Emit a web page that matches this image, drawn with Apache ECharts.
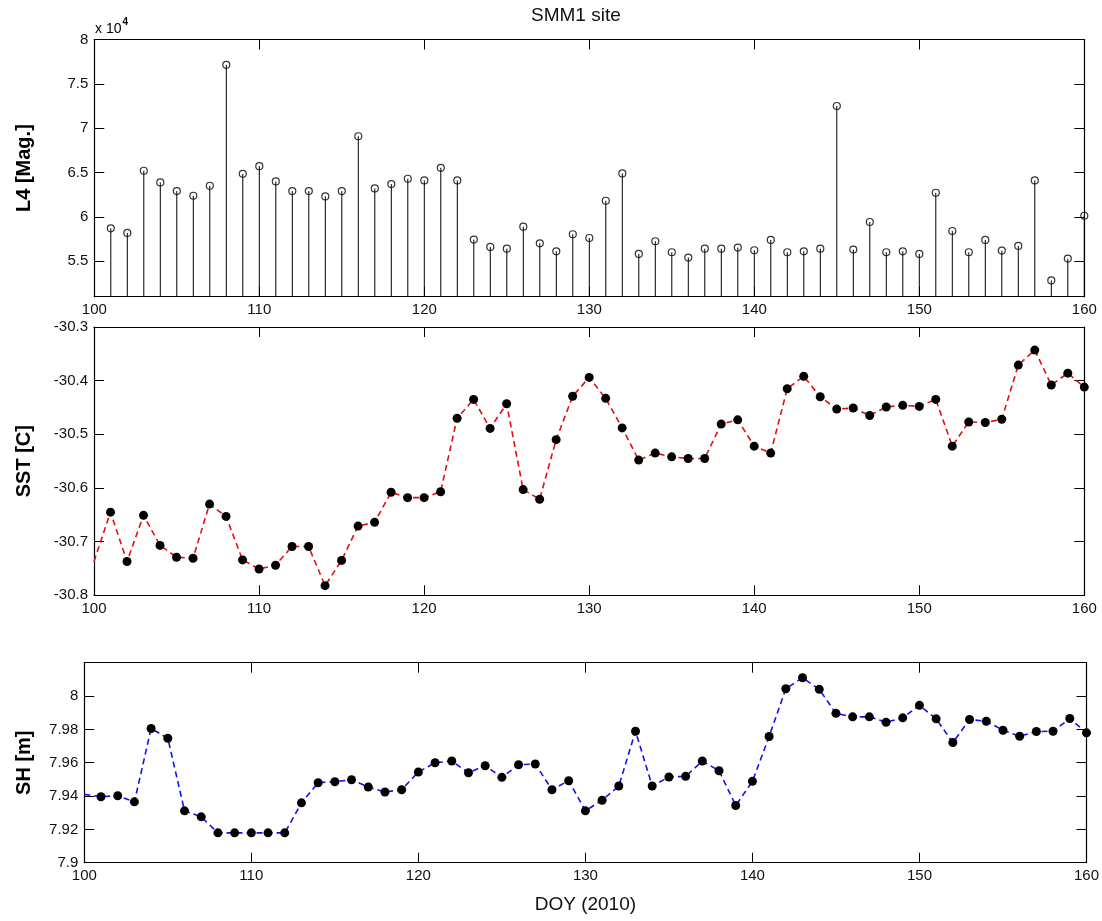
<!DOCTYPE html>
<html>
<head>
<meta charset="utf-8">
<script src="https://cdn.jsdelivr.net/npm/echarts@6/dist/echarts.min.js"></script>
<style>html,body{margin:0;padding:0;background:#fff;}#c{width:1102px;height:921px;}</style>
</head>
<body>
<div id="c"></div>
<script>
// ---- data ----
const l4Days = [101,102,103,104,105,106,107,108,109,110,111,112,113,114,115,116,117,118,119,120,121,122,123,124,125,126,127,128,129,130,131,132,133,134,135,136,137,138,139,140,141,142,143,144,145,146,147,148,149,150,151,152,153,154,155,156,157,158,159,160];
const l4Values = [58710,58190,65200,63880,62910,62380,63510,77150,64860,65720,64000,62910,62910,62310,62910,69090,63210,63700,64300,64110,65530,64110,57440,56610,56420,58900,57020,56120,58040,57620,61820,64900,55820,57250,56010,55410,56420,56420,56540,56240,57400,56010,56120,56420,72500,56310,59420,56010,56120,55820,62720,58410,56010,57400,56200,56720,64110,52830,55300,60130];

const sstDays = [100,101,102,103,104,105,106,107,108,109,110,111,112,113,114,115,116,117,118,119,120,121,122,123,124,125,126,127,128,129,130,131,132,133,134,135,136,137,138,139,140,141,142,143,144,145,146,147,148,149,150,151,152,153,154,155,156,157,158,159,160];
const sstValues = [-30.737,-30.645,-30.737,-30.651,-30.707,-30.729,-30.731,-30.630,-30.653,-30.734,-30.751,-30.744,-30.709,-30.709,-30.782,-30.735,-30.671,-30.664,-30.608,-30.618,-30.618,-30.607,-30.470,-30.435,-30.489,-30.443,-30.603,-30.621,-30.510,-30.429,-30.394,-30.433,-30.488,-30.548,-30.535,-30.542,-30.545,-30.545,-30.481,-30.473,-30.522,-30.535,-30.415,-30.392,-30.430,-30.453,-30.451,-30.465,-30.449,-30.446,-30.448,-30.435,-30.522,-30.477,-30.478,-30.472,-30.371,-30.343,-30.408,-30.386,-30.412];

const shDays = [100,101,102,103,104,105,106,107,108,109,110,111,112,113,114,115,116,117,118,119,120,121,122,123,124,125,126,127,128,129,130,131,132,133,134,135,136,137,138,139,140,141,142,143,144,145,146,147,148,149,150,151,152,153,154,155,156,157,158,159,160];
const shValues = [7.941,7.9396,7.9402,7.9365,7.9805,7.9747,7.9311,7.9275,7.9179,7.9179,7.9179,7.9179,7.9179,7.9359,7.9480,7.9486,7.9498,7.9454,7.9424,7.9438,7.9544,7.9600,7.9610,7.9540,7.9582,7.9512,7.9588,7.9592,7.9438,7.9492,7.9311,7.9375,7.9460,7.9789,7.9460,7.9514,7.9518,7.9610,7.9552,7.9343,7.9488,7.9757,8.0044,8.0110,8.0040,7.9896,7.9875,7.9875,7.9843,7.9869,7.9944,7.9863,7.9721,7.9859,7.9849,7.9795,7.9759,7.9787,7.9789,7.9865,7.9779];

const l4Ticks = [55000,60000,65000,70000,75000,80000];
const titleText = 'SMM1 site';
const xName = 'DOY (2010)';
const yNames = ['L4 [Mag.]', 'SST [C]', 'SH [m]'];

// ---- chart ----
const FONT = 'Liberation Sans, Arial, Helvetica, sans-serif';
const L4_MIN = 51000, L4_MAX = 80000;

const tickStyle = {show:true, inside:true, length:10, lineStyle:{color:'#000', width:1}};
const lineStyleAx = {show:true, lineStyle:{color:'#000', width:1.2}};
const lbl = {show:true, color:'#111', fontSize:15, fontFamily:FONT};

function xBottom(grid, extra) {
  return Object.assign({
    type:'value', gridIndex:grid, position:'bottom', min:100, max:160, interval:10,
    axisLine:lineStyleAx, axisTick:tickStyle, splitLine:{show:false},
    axisLabel:Object.assign({margin:6}, lbl)
  }, extra || {});
}
function xTop(grid) {
  return {type:'value', gridIndex:grid, position:'top', min:100, max:160, interval:10,
    axisLine:lineStyleAx, axisTick:tickStyle, splitLine:{show:false}, axisLabel:{show:false}};
}

const sstData = sstDays.map((d,i) => i === 0 ? {value:[d, sstValues[i]], symbol:'none'} : [d, sstValues[i]]);
const shData = shDays.map((d,i) => i === 0 ? {value:[d, shValues[i]], symbol:'none'} : [d, shValues[i]]);
const l4Data = l4Days.map((d,i) => [d, l4Values[i]]);

const option = {
  backgroundColor:'#fff',
  animation:false,
  graphic:[
    {type:'text', left:531, top:6, style:{text:titleText, font:'19px ' + FONT, fill:'#111'}},
    {type:'text', left:95, top:17, style:{
      text:'{a|x 10}{b|4}', rich:{
        a:{fontSize:14, fontFamily:FONT, color:'#111', verticalAlign:'bottom'},
        b:{fontSize:10, fontWeight:'bold', fontFamily:FONT, color:'#111', verticalAlign:'top', padding:[0,0,9,1]}
      }}}
  ],
  grid:[
    {left:94.3, right:17.7, top:39.5, height:257.2},
    {left:94, right:17.7, top:327, height:268.3},
    {left:84.3, right:15.3, top:662.7, height:200}
  ],
  xAxis:[
    xBottom(0), xTop(0),
    xBottom(1), xTop(1),
    xBottom(2, {name:xName, nameLocation:'middle', nameGap:33, nameTextStyle:{fontSize:19, fontFamily:FONT, color:'#111'}}), xTop(2)
  ],
  yAxis:[
    {type:'value', gridIndex:0, position:'left', min:L4_MIN, max:L4_MAX,
     name:yNames[0], nameLocation:'middle', nameGap:60, nameRotate:90,
     nameTextStyle:{fontSize:20, fontWeight:'bold', fontFamily:FONT, color:'#000'},
     axisLine:lineStyleAx, axisTick:Object.assign({customValues:l4Ticks}, tickStyle), splitLine:{show:false},
     axisLabel:Object.assign({margin:6, customValues:l4Ticks, formatter:v => String(+(v/10000).toFixed(1))}, lbl)},
    {type:'value', gridIndex:0, position:'right', min:L4_MIN, max:L4_MAX,
     axisLine:lineStyleAx, axisTick:Object.assign({customValues:l4Ticks}, tickStyle), splitLine:{show:false}, axisLabel:{show:false}},
    {type:'value', gridIndex:1, position:'left', min:-30.8, max:-30.3, interval:0.1,
     name:yNames[1], nameLocation:'middle', nameGap:60, nameRotate:90,
     nameTextStyle:{fontSize:20, fontWeight:'bold', fontFamily:FONT, color:'#000'},
     axisLine:lineStyleAx, axisTick:tickStyle, splitLine:{show:false},
     axisLabel:Object.assign({margin:6, formatter:v => v.toFixed(1)}, lbl)},
    {type:'value', gridIndex:1, position:'right', min:-30.8, max:-30.3, interval:0.1,
     axisLine:lineStyleAx, axisTick:tickStyle, splitLine:{show:false}, axisLabel:{show:false}},
    {type:'value', gridIndex:2, position:'left', min:7.9, max:8.02, interval:0.02,
     name:yNames[2], nameLocation:'middle', nameGap:50, nameRotate:90,
     nameTextStyle:{fontSize:20, fontWeight:'bold', fontFamily:FONT, color:'#000'},
     axisLine:lineStyleAx, axisTick:tickStyle, splitLine:{show:false},
     axisLabel:Object.assign({margin:6, showMaxLabel:false, formatter:v => (v > 8.01 ? '' : String(+v.toFixed(2)))}, lbl)},
    {type:'value', gridIndex:2, position:'right', min:7.9, max:8.02, interval:0.02,
     axisLine:lineStyleAx, axisTick:tickStyle, splitLine:{show:false}, axisLabel:{show:false}}
  ],
  series:[
    {type:'custom', xAxisIndex:0, yAxisIndex:0, data:l4Data, clip:false,
     renderItem:function(params, api){
       const p0 = api.coord([api.value(0), L4_MIN]);
       const p1 = api.coord([api.value(0), api.value(1)]);
       return {type:'line', shape:{x1:p0[0], y1:p0[1], x2:p1[0], y2:p1[1]}, style:{stroke:'#000', lineWidth:1}};
     }},
    {type:'scatter', xAxisIndex:0, yAxisIndex:0, data:l4Data, symbol:'circle', symbolSize:7, clip:false,
     itemStyle:{color:'rgba(0,0,0,0)', borderColor:'#000', borderWidth:1.2}},
    {type:'line', xAxisIndex:2, yAxisIndex:2, data:sstData, symbol:'circle', symbolSize:9, showAllSymbol:true,
     lineStyle:{color:'#e01010', width:1.6, type:[6,4]}, itemStyle:{color:'#000', borderColor:'#000', borderWidth:0}},
    {type:'line', xAxisIndex:4, yAxisIndex:4, data:shData, symbol:'circle', symbolSize:9, showAllSymbol:true,
     lineStyle:{color:'#1010f0', width:1.6, type:[6,4]}, itemStyle:{color:'#000', borderColor:'#000', borderWidth:0}}
  ]
};
echarts.init(document.getElementById('c')).setOption(option);
</script>
</body>
</html>
